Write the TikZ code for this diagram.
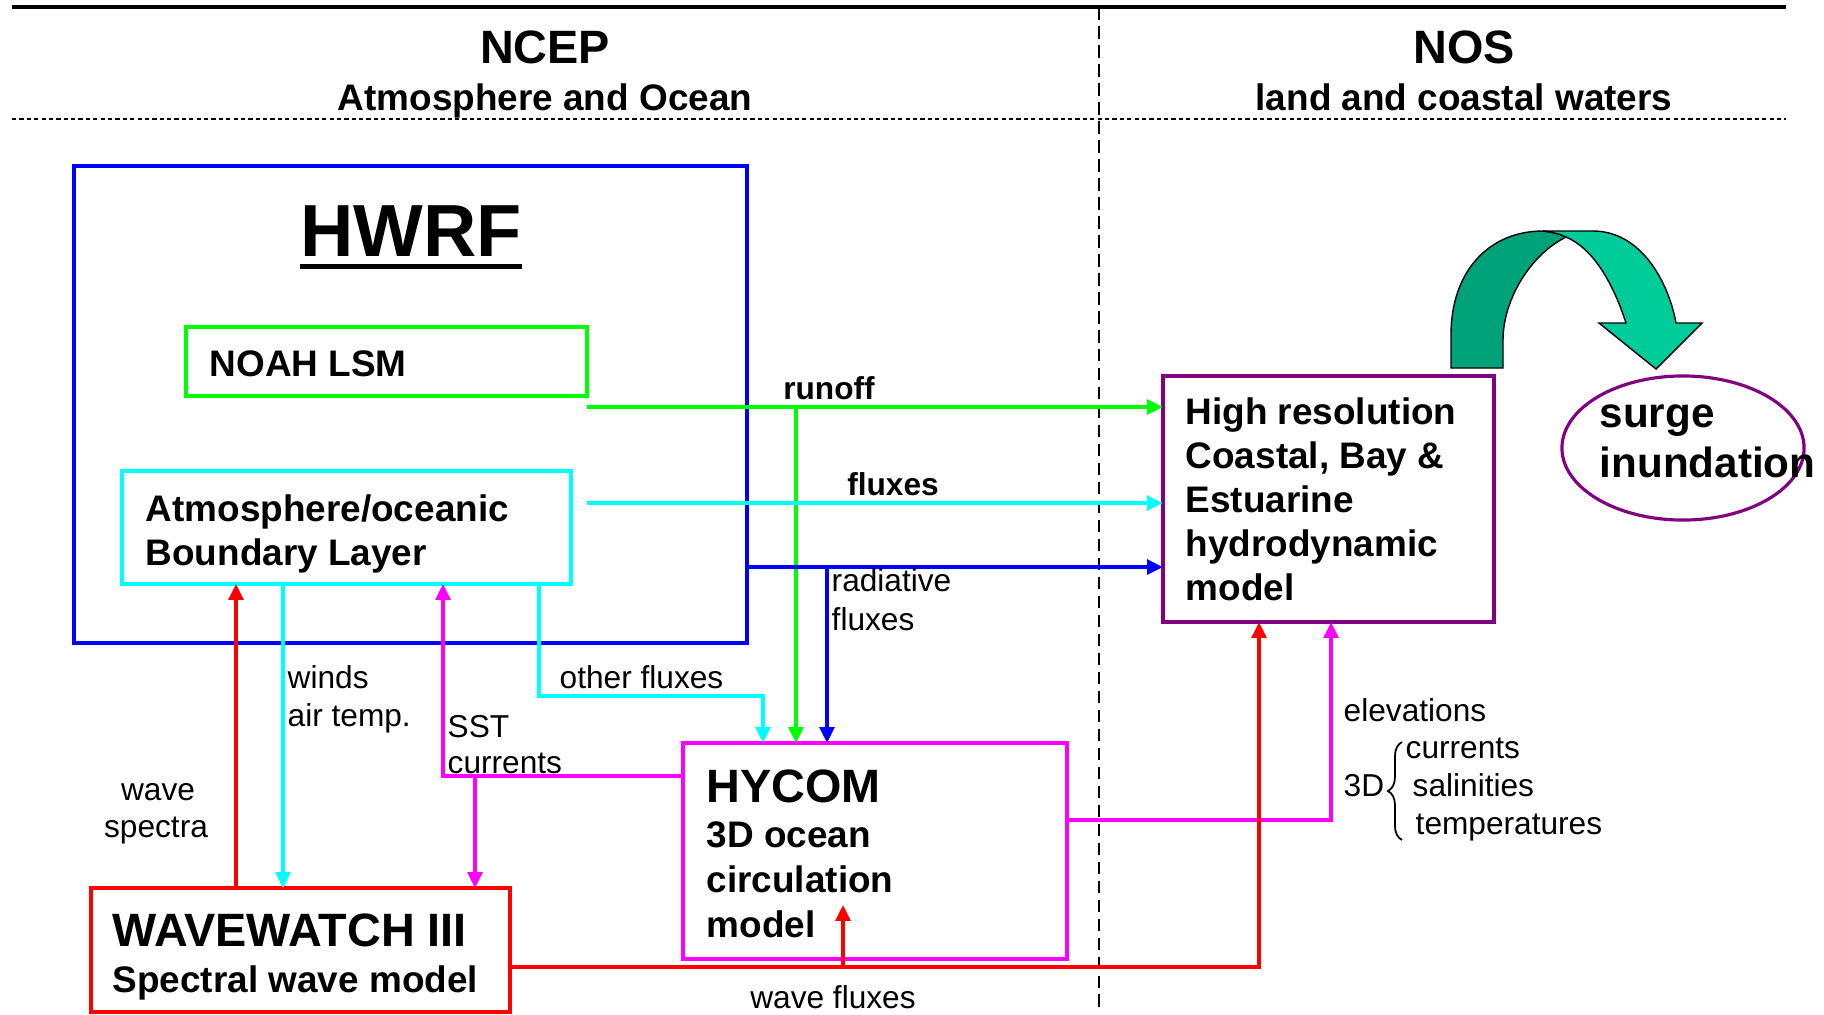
\documentclass[tikz,border=0pt]{standalone}
\usepackage{fontspec}
\setmainfont{Liberation Sans}
\usetikzlibrary{arrows.meta, shapes.geometric, decorations.pathreplacing}
\definecolor{hBlue}{RGB}{0,0,255}
\definecolor{hGreen}{RGB}{0,255,0}
\definecolor{hCyan}{RGB}{0,255,255}
\definecolor{hMagenta}{RGB}{255,0,255}
\definecolor{hRed}{RGB}{255,0,0}
\definecolor{hPurple}{RGB}{128,0,128}
\definecolor{arcDark}{RGB}{0,162,122}
\definecolor{arcLight}{RGB}{0,204,153}

\begin{document}
\begin{tikzpicture}[x=0.01cm, y=-0.01cm,
  box/.style={draw, line width=1.1pt, inner sep=0pt, outer sep=0pt},
  flow/.style={line width=0.9pt, -{Triangle[length=4.5pt, width=4.2pt]}},
  txt/.style={inner sep=0pt, anchor=base west},
  lbl/.style={txt, font=\fontsize{9}{11}\selectfont},
  lblb/.style={txt, font=\fontsize{9}{11}\selectfont\bfseries},
  big/.style={txt, font=\fontsize{10.5}{12}\selectfont\bfseries},
  ttl/.style={txt, font=\fontsize{13.3}{16}\selectfont\bfseries}]
  \useasboundingbox (0,0) rectangle (1824,1014);

  \draw[line width=1.1pt] (12,7) -- (1786,7);
  \draw[line width=0.6pt, dash pattern=on 1.2pt off 0.9pt] (12,119) -- (1786,119);
  \draw[line width=0.6pt, dash pattern=on 3.6pt off 1.8pt] (1099,7) -- (1099,1010);
  \node[ttl, anchor=base] (ncep) at (545,63) {NCEP};
  \node[big, anchor=base] (ncepSub) at (545,110) {Atmosphere and Ocean};
  \node[ttl, anchor=base] (nos) at (1464,63) {NOS};
  \node[big, anchor=base] (nosSub) at (1464,110) {land and coastal waters};

  \node[box, draw=hBlue, minimum width=6.73cm, minimum height=4.77cm] (hwrf) at (410.5,404.5) {};
  \node[box, draw=hGreen, minimum width=4.01cm, minimum height=0.69cm] (noah) at (386.5,361.5) {};
  \node[box, draw=hCyan, minimum width=4.49cm, minimum height=1.13cm] (abl) at (346.5,527.5) {};
  \node[box, draw=hMagenta, minimum width=3.84cm, minimum height=2.16cm] (hycom) at (875,851) {};
  \node[box, draw=hRed, minimum width=4.19cm, minimum height=1.24cm] (wwiii) at (300.5,950) {};
  \node[box, draw=hPurple, minimum width=3.31cm, minimum height=2.46cm] (coastal) at (1328.5,499) {};
  \node[box, draw=hPurple, line width=0.9pt, ellipse, minimum width=2.42cm, minimum height=1.44cm] (surge) at (1683,448) {};

  \node[txt, anchor=base, font=\fontsize{21}{24}\selectfont\bfseries] (hwrfT) at (411,256) {HWRF};
  \draw[line width=1.5pt] ([yshift=-3pt]hwrfT.base west) -- ([yshift=-3pt]hwrfT.base east);
  \node[big] (noahT) at (209,376) {NOAH LSM};
  \node[big] (ablA) at (145,521) {Atmosphere/oceanic};
  \node[big] (ablB) at (145,565) {Boundary Layer};
  \node[ttl] (hycomT) at (706,802) {HYCOM};
  \foreach \txt [count=\i] in {3D ocean, circulation, model}
    \node[big] (hycom\i) at (706,802+45*\i) {\txt};
  \node[ttl] (wwiiiT) at (112,946) {WAVEWATCH III};
  \node[big] (wwiiiS) at (112,992) {Spectral wave model};
  \foreach \txt [count=\i from 0] in {High resolution, {Coastal, Bay \&}, Estuarine, hydrodynamic, model}
    \node[big] (coastal\i) at (1185,424+44*\i) {\txt};
  \node[txt, font=\fontsize{12}{14}\selectfont\bfseries] (surgeA) at (1599,427) {surge};
  \node[txt, font=\fontsize{12}{14}\selectfont\bfseries] (surgeB) at (1599,477) {inundation};

  \filldraw[fill=arcDark, draw=black, line width=0.4pt] (1451,368) -- (1451,335)
    .. controls (1451,270) and (1490,231) .. (1543,231)
    .. controls (1552,232) and (1560,234) .. (1566,237)
    .. controls (1530,255) and (1503,300) .. (1503,340) -- (1503,368) -- cycle;
  \filldraw[fill=arcLight, draw=black, line width=0.4pt] (1543,231) -- (1593,231)
    .. controls (1640,231) and (1668,280) .. (1676,323) -- (1702,323) -- (1656,369)
    -- (1599,323) -- (1626,323)
    .. controls (1612,280) and (1592,248) .. (1566,237)
    .. controls (1560,234) and (1552,232) .. (1543,231) -- cycle;

  \coordinate (roS) at (587,407);
  \coordinate (roJ) at (796,407);
  \coordinate (flS) at (587,503);
  \coordinate (radS) at (747,567);
  \coordinate (radJ) at (827,567);
  \coordinate (ofA) at (539,696);
  \coordinate (ofB) at (763,696);
  \coordinate (wdX) at (283,700);
  \coordinate (wsX) at (236,700);
  \coordinate (sstA) at (443,776);
  \coordinate (sstB) at (475,776);
  \coordinate (elA) at (1331,820);
  \coordinate (wfA) at (1259,967);
  \coordinate (wfB) at (843,967);
  \coordinate (wfT) at (843,905);

  \draw[flow, hGreen] (roS) -- (roS -| coastal.west);
  \draw[flow, hGreen] (roJ) -- (roJ |- hycom.north);
  \draw[flow, hCyan] (flS) -- (flS -| coastal.west);
  \draw[flow, hBlue] (radS) -- (radS -| coastal.west);
  \draw[flow, hBlue] (radJ) -- (radJ |- hycom.north);
  \draw[flow, hCyan] (abl.south -| ofA) -- (ofA) -- (ofB) -- (ofB |- hycom.north);
  \draw[flow, hCyan] (abl.south -| wdX) -- (wdX |- wwiii.north);
  \draw[flow, hRed] (wwiii.north -| wsX) -- (wsX |- abl.south);
  \draw[flow, hMagenta] (hycom.west |- sstA) -- (sstA) -- (sstA |- abl.south);
  \draw[flow, hMagenta] (sstB) -- (sstB |- wwiii.north);
  \draw[flow, hMagenta] (hycom.east |- elA) -- (elA) -- (elA |- coastal.south);
  \draw[flow, hRed] (wwiii.east |- wfA) -- (wfA) -- (wfA |- coastal.south);
  \draw[flow, hRed] (wfB) -- (wfT);

  \node[lblb, anchor=base] (runoffL) at (829,399) {runoff};
  \node[lblb, anchor=base] (fluxesL) at (893,495) {fluxes};
  \node[lbl] (radL) at (831,591) {radiative};
  \node[lbl] (radL2) at (831,630) {fluxes};
  \node[lbl] (otherL) at (559,688) {other fluxes};
  \node[lbl] (windsL) at (287,688) {winds};
  \node[lbl] (airL) at (287,726) {air temp.};
  \node[lbl] (sstL) at (447,737) {SST};
  \node[lbl] (curL) at (447,773) {currents};
  \node[lbl, anchor=base] (waveL) at (158,800) {wave};
  \node[lbl, anchor=base] (specL) at (156,837) {spectra};
  \node[lbl, anchor=base] (wfL) at (833,1008) {wave fluxes};
  \node[lbl] (elevL) at (1343,721) {elevations};
  \node[lbl] (threeL) at (1343,796) {3D};
  \node[lbl] (curL2) at (1405,758) {currents};
  \node[lbl] (salL) at (1412,796) {salinities};
  \node[lbl] (tempL) at (1415,834) {temperatures};
  \draw[line width=0.5pt, decorate, decoration={brace, amplitude=4pt}] (1402,840) -- (1402,742);
\end{tikzpicture}
\end{document}
